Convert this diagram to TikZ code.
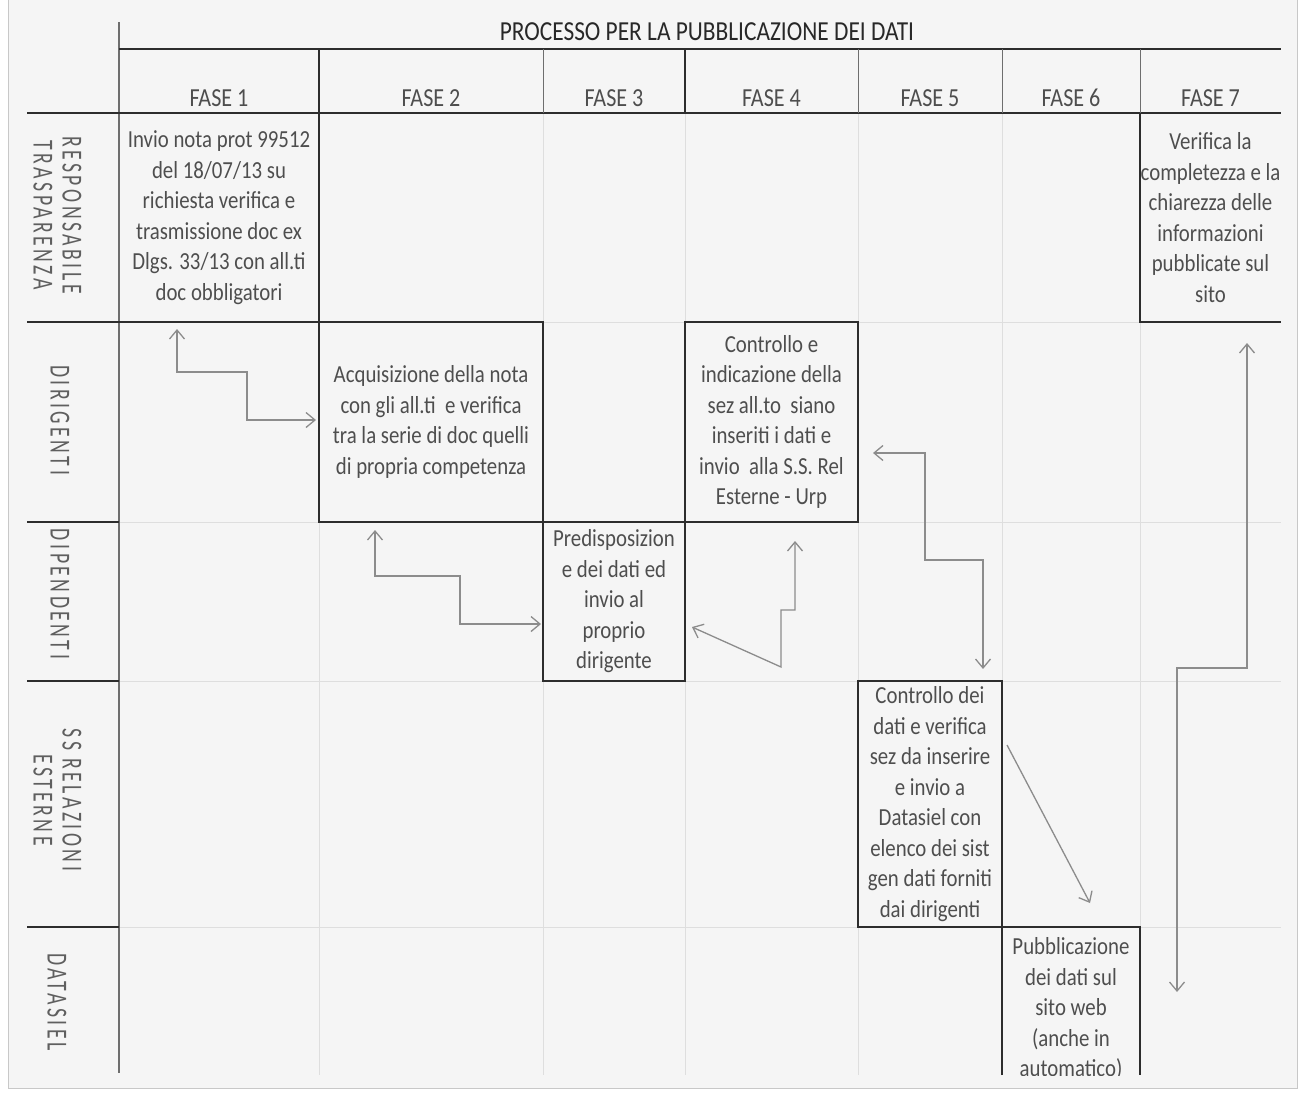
\documentclass[tikz,border=0pt]{standalone}
\usepackage{fontspec}
\setmainfont{Carlito}[FakeStretch=0.85]
\newfontfamily\lanefont{Carlito}[FakeStretch=0.68,LetterSpace=12]
\usetikzlibrary{arrows.meta,calc}
\definecolor{bgcol}{RGB}{245,245,245}
\definecolor{framecol}{RGB}{200,200,200}
\definecolor{gridcol}{RGB}{222,222,222}
\definecolor{linecol}{RGB}{45,45,45}
\definecolor{hdrcol}{RGB}{110,110,110}
\definecolor{arrowcol}{RGB}{140,140,140}
\definecolor{txtcol}{RGB}{78,78,78}
\definecolor{titlecol}{RGB}{40,40,40}
\definecolor{lanecol}{RGB}{95,95,95}
\begin{document}
\begin{tikzpicture}[x=1pt,y=-1pt,
  boxline/.style={draw=linecol,line width=1.6pt},
  topline/.style={draw=linecol,line width=1.3pt},
  thinhdr/.style={draw=hdrcol,line width=0.9pt},
  gridline/.style={draw=gridcol,line width=0.8pt},
  barb/.tip={Straight Barb[length=9pt,width=15pt]},
  flow/.style={draw=arrowcol,line width=1.3pt,barb-barb},
  flowone/.style={draw=arrowcol,line width=1.3pt,-barb},
  box/.style={inner sep=0pt,align=center,text=txtcol,font=\fontsize{24.5}{30.5}\selectfont},
  fase/.style={inner sep=0pt,text=txtcol,font=\fontsize{26}{30}\selectfont},
  lane/.style={rotate=-90,align=center,inner sep=0pt,text=lanecol,font=\lanefont\fontsize{29}{29}\selectfont}
]
\useasboundingbox (0,0) rectangle (1303,1093);
\fill[white] (0,0) rectangle (1303,1093);
\fill[bgcol] (8,0) rectangle (1297,1088);
\draw[framecol,line width=1pt] (8,0) -- (8,1088) -- (1297,1088) -- (1297,0);

% faint spreadsheet grid
\foreach \gx in {319,543,685,858,1002,1140}
  \draw[gridline] (\gx,113) -- (\gx,1075);
\foreach \gy in {322,522,681,927}
  \draw[gridline] (119,\gy) -- (1281,\gy);

% title and phase header
\node[inner sep=0pt,text=titlecol,font=\fontsize{27.5}{32}\selectfont] (title) at (707,32) {PROCESSO PER LA PUBBLICAZIONE DEI DATI};
\node[fase] (f1) at (219,98) {FASE 1};
\node[fase] (f2) at (431,98) {FASE 2};
\node[fase] (f3) at (614,98) {FASE 3};
\node[fase] (f4) at (771.5,98) {FASE 4};
\node[fase] (f5) at (930,98) {FASE 5};
\node[fase] (f6) at (1071,98) {FASE 6};
\node[fase] (f7) at (1210.5,98) {FASE 7};

\draw[hdrcol,line width=1.2pt] (119,22) -- (119,1073);
\draw[topline] (119,49) -- (1281,49);
\draw[boxline] (27,113) -- (1281,113);
\draw[boxline] (319,49) -- (319,113);
\draw[boxline] (685,49) -- (685,113);
\foreach \hx in {543,858,1002,1140}
  \draw[thinhdr] (\hx,49) -- (\hx,113);

% lane labels
\node[lane] (l1) at (57.5,215) {RESPONSABILE\\TRASPARENZA};
\node[lane] (l2) at (60,420) {DIRIGENTI};
\node[lane] (l3) at (60,594) {DIPENDENTI};
\node[lane] (l4) at (57.5,800) {SS RELAZIONI\\ESTERNE};
\node[lane] (l5) at (57,1002) {DATASIEL};
\foreach \ly in {322,522,681,927}
  \draw[boxline] (27,\ly) -- (119,\ly);

% activity boxes
\node[box,minimum width=200pt,minimum height=209pt] (b1) at (219,217.5)
  {Invio nota prot 99512\\del 18/07/13 su\\richiesta verifica e\\trasmissione doc ex\\Dlgs. 33/13 con all.ti\\doc obbligatori};
\node[box,minimum width=224pt,minimum height=200pt] (b2) at (431,422)
  {Acquisizione della nota\\con gli all.ti~ e verifica\\tra la serie di doc quelli\\di propria competenza};
\node[box,minimum width=142pt,minimum height=159pt] (b3) at (614,601.5)
  {Predisposizion\\e dei dati ed\\invio al\\proprio\\dirigente};
\node[box,minimum width=173pt,minimum height=200pt] (b4) at (771.5,422)
  {Controllo e\\indicazione della\\sez all.to~ siano\\inseriti i dati e\\invio~ alla S.S. Rel\\Esterne - Urp};
\node[box,minimum width=144pt,minimum height=246pt] (b5) at (930,804)
  {Controllo dei\\dati e verifica\\sez da inserire\\e invio a\\Datasiel con\\elenco dei sist\\gen dati forniti\\dai dirigenti};
\node[minimum width=138pt,minimum height=148pt,inner sep=0pt] (b6) at (1071,1001) {};
\begin{scope}
  \clip (b6.north west) rectangle (b6.south east);
  \node[box] (t6) at (1071,1009) {Pubblicazione\\dei dati sul\\sito web\\(anche in\\automatico)};
\end{scope}
\node[box,minimum width=141pt,minimum height=209pt] (b7) at (1210.5,217.5)
  {Verifica la\\completezza e la\\chiarezza delle\\informazioni\\pubblicate sul\\sito};

\draw[boxline] (b1.north east) -- (b1.south east);
\draw[boxline] (b1.south west) -- (b1.south east);
\draw[boxline] (b2.north west) rectangle (b2.south east);
\draw[boxline] (b3.north west) rectangle (b3.south east);
\draw[boxline] (b4.north west) rectangle (b4.south east);
\draw[boxline] (b5.north west) rectangle (b5.south east);
\draw[boxline] (b6.south west) -- (b6.north west) -- (b6.north east) -- (b6.south east);
\draw[boxline] (b7.north west) -- (b7.south west) -- (b7.south east);

% connector end points
\coordinate (a1s) at (177,329);
\coordinate (a1e) at (316,420);
\coordinate (a2s) at (375,530);
\coordinate (a2e) at (541,624);
\coordinate (a3s) at (692,627);
\coordinate (a3e) at (795,541);
\coordinate (a4s) at (873,453);
\coordinate (a4e) at (983,669);
\coordinate (a5s) at (1247,343);
\coordinate (a5e) at (1177,992);
\coordinate (a6s) at (1007,745);
\coordinate (a6e) at (1090,903);

\draw[flow] (a1s) -- (177,372) -- (247,372) -- (247,420) -- (a1e);
\draw[flow] (a2s) -- (375,576) -- (460,576) -- (460,624) -- (a2e);
\draw[flow] (a3s) -- (781,667) -- (781,610) -- (795,610) -- (a3e);
\draw[flow] (a4s) -- (925,453) -- (925,560) -- (983,560) -- (a4e);
\draw[flow] (a5s) -- (1247,668) -- (1177,668) -- (a5e);
\draw[flowone] (a6s) -- (a6e);
\end{tikzpicture}
\end{document}
